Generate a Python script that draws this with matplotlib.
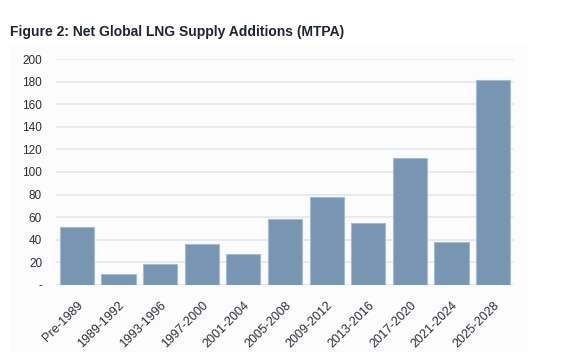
import matplotlib
matplotlib.use("Agg")
import matplotlib.pyplot as plt
from matplotlib.patches import Rectangle
from matplotlib.ticker import FixedLocator, FuncFormatter

categories = ["Pre-1989", "1989-1992", "1993-1996", "1997-2000", "2001-2004",
              "2005-2008", "2009-2012", "2013-2016", "2017-2020", "2021-2024",
              "2025-2028"]
values = [51, 10, 19, 36, 27, 58, 78, 55, 112, 38, 181]
yticks = [0, 20, 40, 60, 80, 100, 120, 140, 160, 180, 200]
title = "Figure 2: Net Global LNG Supply Additions (MTPA)"

plt.rcParams['font.family'] = ['Liberation Sans', 'DejaVu Sans']

W, H = 588, 359
fig = plt.figure(figsize=(W / 100, H / 100), dpi=100)
fig.patch.set_facecolor("white")

# light panel behind chart
fig.patches.append(Rectangle((10 / W, 1 - 352 / H), (528 - 10) / W, (352 - 45) / H,
                             transform=fig.transFigure, facecolor="#fcfcfd",
                             edgecolor="none", zorder=-10))

fig.text(10 / W, 1 - 32 / H, title, fontsize=10, fontweight="bold",
         color="#1e2530", va="center", ha="left")

left, right, top, bottom = 56, 514, 59, 285
ax = fig.add_axes([left / W, 1 - bottom / H, (right - left) / W, (bottom - top) / H])
ax.set_facecolor("none")
ax.set_zorder(2)

x = list(range(len(categories)))
ax.bar(x, values, width=0.82, color="#7896b1", edgecolor="#a7bbce", linewidth=0.8, zorder=3)

ax.set_xlim(-0.5, len(categories) - 0.5)
ax.set_ylim(0, 200)
ax.yaxis.set_major_locator(FixedLocator(yticks))
ax.yaxis.set_major_formatter(FuncFormatter(lambda v, p: "-" if v == 0 else f"{int(v)}"))
ax.grid(axis="y", color="#e3e8ee", linewidth=1.2, zorder=0)
ax.set_axisbelow(True)
for s in ax.spines.values():
    s.set_visible(False)

ax.set_xticks(x)
ax.set_xticklabels(categories, rotation=45, ha="right", rotation_mode="anchor")
ax.tick_params(axis="both", length=0, labelsize=8.5, colors="#2b2f36")
ax.tick_params(axis="x", labelsize=9, pad=10)
ax.tick_params(axis="y", pad=10)

fig.savefig("out.png", dpi=100)
